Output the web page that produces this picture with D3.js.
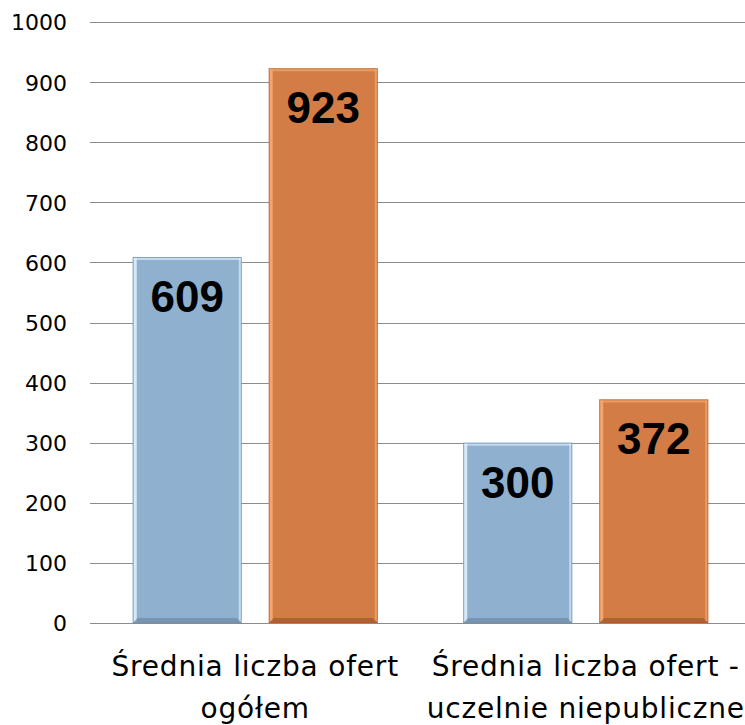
<!DOCTYPE html>
<html><head><meta charset="utf-8">
<script src="https://cdn.jsdelivr.net/npm/d3@7"></script>
<style>body{margin:0;background:#fff}svg{display:block}</style>
</head><body>
<div id="c"></div>
<script>
const categories = ["Średnia liczba ofert ogółem", "Średnia liczba ofert - uczelnie niepubliczne"];
const categoryLines = [["Średnia liczba ofert", "ogółem"], ["Średnia liczba ofert -", "uczelnie niepubliczne"]];
const seriesNames = ["A", "B"];
const seriesA = [609, 300];
const seriesB = [923, 372];
const yTicks = [0, 100, 200, 300, 400, 500, 600, 700, 800, 900, 1000];

const W = 745, H = 725;
const colors = {A: {fill: "#8fb1cf", light: "#dcecfa", dark: "#6d8cab"}, B: {fill: "#d47c45", light: "#f7a870", dark: "#a65829"}};

const svg = d3.select("#c").append("svg").attr("width", W).attr("height", H);

const y = d3.scaleLinear().domain([0, 1000]).range([623, 22]);
const x0 = d3.scaleBand().domain(categories).range([90, 751]).paddingInner(0).paddingOuter(0);
const x1 = d3.scaleBand().domain(seriesNames).range([0, x0.bandwidth()]).paddingInner(0.1985).paddingOuter(0.314);

// gridlines
svg.append("g").selectAll("line").data(yTicks).join("line")
  .attr("x1", 90).attr("x2", W).attr("y1", d => Math.round(y(d)) + 0.5).attr("y2", d => Math.round(y(d)) + 0.5)
  .attr("stroke", "#8c8c8c").attr("stroke-width", 1.2);

// y axis labels
const yAxis = d3.axisLeft(y).tickValues(yTicks).tickSize(0).tickPadding(0).tickFormat(d3.format("d"));
const ya = svg.append("g").attr("transform", "translate(67,0)").call(yAxis);
ya.select(".domain").remove();
ya.selectAll("text").attr("font-family", "DejaVu Sans, sans-serif").attr("font-size", 22).attr("fill", "#000").attr("dy", "0.36em");

const data = categories.map((c, i) => ({cat: c, vals: [{s: "A", v: seriesA[i]}, {s: "B", v: seriesB[i]}]}));

const g = svg.append("g").selectAll("g").data(data).join("g").attr("transform", d => `translate(${x0(d.cat)},0)`);
const bars = g.selectAll("g.bar").data(d => d.vals).join("g").attr("class", "bar");

bars.each(function(d) {
  const sel = d3.select(this);
  const bx = x1(d.s), bw = x1.bandwidth();
  const top = y(d.v), bot = y(0);
  const c = colors[d.s];
  sel.append("rect").attr("x", bx).attr("y", top).attr("width", bw).attr("height", bot - top).attr("fill", c.fill);
  // left highlight
  sel.append("rect").attr("x", bx + 1).attr("y", top + 1).attr("width", 3).attr("height", bot - top - 2).attr("fill", c.light).attr("opacity", 0.95);
  // right highlight
  sel.append("rect").attr("x", bx + bw - 3).attr("y", top + 1).attr("width", 2).attr("height", bot - top - 2).attr("fill", c.light).attr("opacity", 0.7);
  // top highlight
  sel.append("rect").attr("x", bx + 1).attr("y", top + 1).attr("width", bw - 2).attr("height", 2).attr("fill", c.light).attr("opacity", 0.7);
  // bottom shadow bevel
  sel.append("path").attr("d", `M${bx},${bot} L${bx + 5},${bot - 5} L${bx + bw - 5},${bot - 5} L${bx + bw},${bot} Z`).attr("fill", c.dark).attr("opacity", 0.75);
  sel.append("rect").attr("x", bx + 0.3).attr("y", top + 0.3).attr("width", bw - 0.6).attr("height", bot - top - 0.6).attr("fill", "none").attr("stroke", c.dark).attr("stroke-width", 0.6).attr("opacity", 0.5);
  sel.append("text").attr("x", bx + bw / 2).attr("y", top + 55).attr("text-anchor", "middle")
    .attr("font-family", "Liberation Sans, Arial, sans-serif").attr("font-weight", "bold").attr("font-size", 44).attr("fill", "#000").text(d.v);
});

// category labels
g.each(function(d, i) {
  const t = d3.select(this).append("text").attr("text-anchor", "middle")
    .attr("font-family", "DejaVu Sans, sans-serif").attr("font-size", 28).attr("letter-spacing", 0.8).attr("fill", "#000");
  categoryLines[i].forEach((ln, j) => {
    t.append("tspan").attr("x", x0.bandwidth() / 2).attr("y", 676 + j * 42).text(ln);
  });
});
</script>
</body></html>
